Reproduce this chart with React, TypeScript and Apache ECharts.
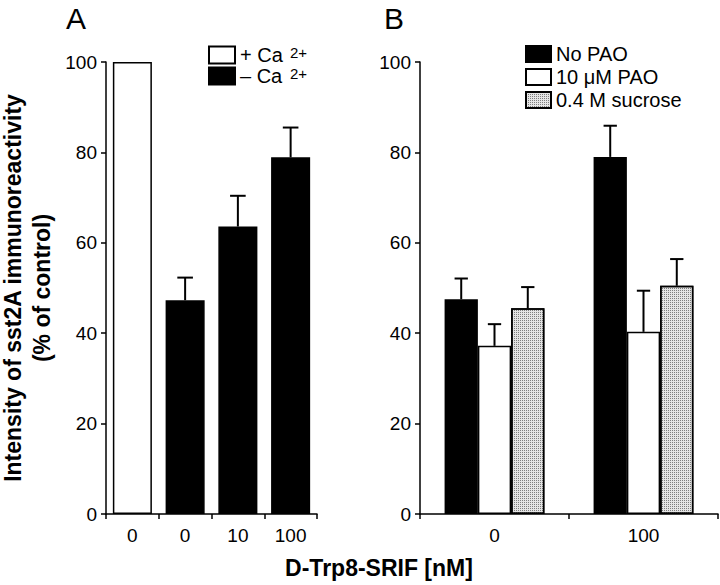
import React, { useEffect, useRef } from "react";
import * as echarts from "echarts";

// Panel A data
const catsA = ["0", "0", "10", "100"];
const plusCa = [100, null, null, null];
const minusCa = [null, 47.3, 63.6, 78.9];
const minusCaErr = [null, 5.0, 6.8, 6.6];

// Panel B data
const catsB = ["0", "100"];
const noPAO = [47.5, 79.0];
const noPAOErr = [4.6, 6.9];
const pao10 = [37.2, 40.3];
const pao10Err = [4.8, 9.1];
const sucrose = [45.5, 50.5];
const sucroseErr = [4.7, 5.9];

const yTicks = { min: 0, max: 100, interval: 20 };

const FONT = "Liberation Sans, Arial, Helvetica, sans-serif";

function errSeries(
  name: string,
  xIdx: number,
  yIdx: number,
  means: (number | null)[],
  errs: (number | null)[],
  slot: number,
  nSlots: number,
  gap: number
) {
  const data: any[] = [];
  means.forEach((m, i) => {
    if (m != null && errs[i] != null) data.push([i, m, errs[i]]);
  });
  return {
    type: "custom",
    name,
    xAxisIndex: xIdx,
    yAxisIndex: yIdx,
    z: 5,
    silent: true,
    data,
    encode: { x: 0, y: 1 },
    renderItem: (params: any, api: any) => {
      const c = api.value(0);
      const m = api.value(1);
      const e = api.value(2);
      const band = api.size([1, 0])[0];
      const bw = (band * (1 - gap)) / nSlots;
      const base = api.coord([c, m]);
      const top = api.coord([c, m + e]);
      const x = base[0] + (slot - (nSlots - 1) / 2) * bw;
      const half = bw * 0.2;
      const st = { stroke: "#000", lineWidth: 2 };
      return {
        type: "group",
        children: [
          { type: "line", shape: { x1: x, y1: base[1], x2: x, y2: top[1] }, style: st },
          { type: "line", shape: { x1: x - half, y1: top[1], x2: x + half, y2: top[1] }, style: st },
        ],
      };
    },
  };
}

function yAxis(gridIndex: number) {
  return {
    type: "value",
    gridIndex,
    ...yTicks,
    axisLine: { show: true, lineStyle: { color: "#000", width: 1.5 } },
    axisTick: { show: true, length: 5, lineStyle: { color: "#000", width: 1.5 } },
    axisLabel: { color: "#000", fontSize: 19, fontFamily: FONT, margin: 9 },
    splitLine: { show: false },
  };
}

function xAxis(gridIndex: number, data: string[]) {
  return {
    type: "category",
    gridIndex,
    data,
    axisLine: { show: true, lineStyle: { color: "#000", width: 1.5 } },
    axisTick: { show: true, length: 5, lineStyle: { color: "#000", width: 1.5 } },
    axisLabel: { color: "#000", fontSize: 19, fontFamily: FONT, margin: 12, interval: 0 },
  };
}

const sucroseDecal = {
  symbol: "rect",
  symbolSize: 1,
  color: "rgba(0,0,0,0.45)",
  dashArrayX: [1, 1],
  dashArrayY: [1, 1],
  rotation: 0,
};

export default function App() {
  const ref = useRef<HTMLDivElement>(null);
  useEffect(() => {
    if (!ref.current) return;
    const chart = echarts.init(ref.current, null, { renderer: "svg" });
    const barBorder = { borderColor: "#000", borderWidth: 1.5 };
    const gapA = 0.26;
    const gapB = 0.33;
    chart.setOption({
      animation: false,
      backgroundColor: "#fff",
      grid: [
        { left: 106, top: 62, width: 211, height: 452 },
        { left: 420, top: 62, width: 298, height: 452 },
      ],
      xAxis: [xAxis(0, catsA), xAxis(1, catsB)],
      yAxis: [yAxis(0), yAxis(1)],
      legend: [
        {
          data: ["+ Ca", "– Ca"],
          left: 208,
          top: 45,
          padding: 0,
          orient: "vertical",
          itemWidth: 26,
          itemHeight: 17,
          itemGap: 1,
          icon: "rect",
          selectedMode: false,
          textStyle: { fontSize: 20, lineHeight: 20, fontFamily: FONT, color: "#000" },
        },
        {
          data: ["No PAO", "10 μM PAO", "0.4 M sucrose"],
          left: 525,
          top: 44,
          padding: 0,
          orient: "vertical",
          itemWidth: 25,
          itemHeight: 16,
          itemGap: 3,
          icon: "rect",
          selectedMode: false,
          textStyle: { fontSize: 20, lineHeight: 20, fontFamily: FONT, color: "#000" },
        },
      ],
      graphic: [
        { type: "text", left: 66, top: 3, style: { text: "A", font: `30px ${FONT}`, fill: "#000" } },
        { type: "text", left: 384, top: 3, style: { text: "B", font: `30px ${FONT}`, fill: "#000" } },
        { type: "text", x: 290, y: 45, style: { text: "2+", font: `15px ${FONT}`, fill: "#000" } },
        { type: "text", x: 290, y: 66, style: { text: "2+", font: `15px ${FONT}`, fill: "#000" } },
        {
          type: "text",
          x: 27,
          y: 288,
          rotation: Math.PI / 2,
          style: {
            text: "Intensity of sst2A immunoreactivity\n(% of control)",
            font: `bold 23px ${FONT}`,
            fill: "#000",
            align: "center",
            verticalAlign: "middle",
            lineHeight: 29,
          },
        },
        {
          type: "text",
          x: 379,
          y: 568,
          style: {
            text: "D-Trp8-SRIF [nM]",
            font: `bold 23px ${FONT}`,
            fill: "#000",
            align: "center",
            verticalAlign: "middle",
          },
        },
      ],
      series: [
        {
          type: "bar",
          name: "+ Ca",
          xAxisIndex: 0,
          yAxisIndex: 0,
          data: plusCa.map((v) => (v == null ? "-" : v)),
          barCategoryGap: "26%",
          barGap: "-100%",
          itemStyle: { color: "#fff", ...barBorder },
        },
        {
          type: "bar",
          name: "– Ca",
          xAxisIndex: 0,
          yAxisIndex: 0,
          data: minusCa.map((v) => (v == null ? "-" : v)),
          barCategoryGap: "26%",
          barGap: "-100%",
          itemStyle: { color: "#000", ...barBorder },
        },
        errSeries("errA", 0, 0, minusCa, minusCaErr, 0, 1, gapA),
        {
          type: "bar",
          name: "No PAO",
          xAxisIndex: 1,
          yAxisIndex: 1,
          data: noPAO,
          barCategoryGap: "33%",
          barGap: "0%",
          itemStyle: { color: "#000", ...barBorder },
        },
        {
          type: "bar",
          name: "10 μM PAO",
          xAxisIndex: 1,
          yAxisIndex: 1,
          data: pao10,
          barCategoryGap: "33%",
          barGap: "0%",
          itemStyle: { color: "#fff", ...barBorder },
        },
        {
          type: "bar",
          name: "0.4 M sucrose",
          xAxisIndex: 1,
          yAxisIndex: 1,
          data: sucrose,
          barCategoryGap: "33%",
          barGap: "0%",
          itemStyle: { color: "#e4e4e4", decal: sucroseDecal, ...barBorder },
        },
        errSeries("errB0", 1, 1, noPAO, noPAOErr, 0, 3, gapB),
        errSeries("errB1", 1, 1, pao10, pao10Err, 1, 3, gapB),
        errSeries("errB2", 1, 1, sucrose, sucroseErr, 2, 3, gapB),
      ],
    });
    return () => chart.dispose();
  }, []);
  return (
    <div
      ref={ref}
      style={{ position: "fixed", left: 0, top: 0, width: 720, height: 585, background: "#fff" }}
    />
  );
}
